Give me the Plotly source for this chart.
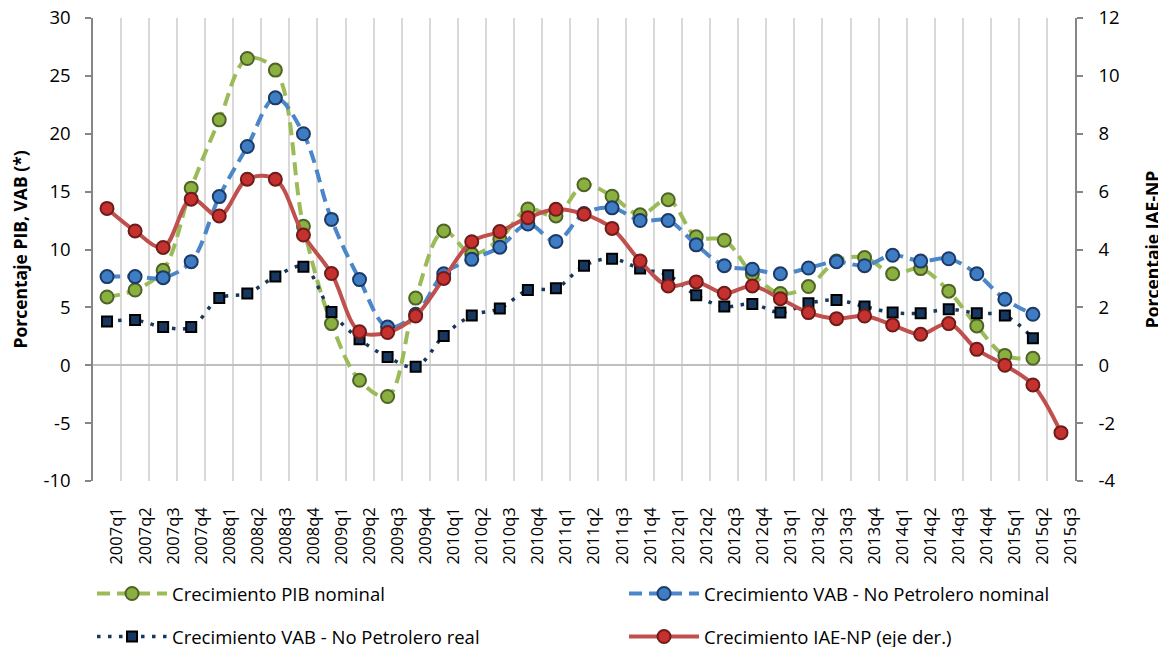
import plotly.graph_objects as go

categories = ["2007q1","2007q2","2007q3","2007q4","2008q1","2008q2","2008q3","2008q4",
              "2009q1","2009q2","2009q3","2009q4","2010q1","2010q2","2010q3","2010q4",
              "2011q1","2011q2","2011q3","2011q4","2012q1","2012q2","2012q3","2012q4",
              "2013q1","2013q2","2013q3","2013q4","2014q1","2014q2","2014q3","2014q4",
              "2015q1","2015q2","2015q3"]

pib_nominal = [5.9, 6.5, 8.2, 15.3, 21.2, 26.5, 25.5, 12.0,
               3.6, -1.3, -2.7, 5.8, 11.6, 9.6, 10.9, 13.5,
               12.9, 15.6, 14.6, 13.0, 14.3, 11.1, 10.8, 7.9,
               6.2, 6.8, 9.0, 9.3, 7.9, 8.35, 6.4, 3.4,
               0.85, 0.6, None]

vab_np_nominal = [7.66, 7.66, 7.57, 8.95, 14.57, 18.9, 23.1, 20.0,
                  12.6, 7.4, 3.3, 4.4, 7.9, 9.15, 10.2, 12.2,
                  10.7, 13.1, 13.6, 12.5, 12.5, 10.4, 8.6, 8.3,
                  7.9, 8.4, 8.95, 8.6, 9.5, 9.0, 9.2, 7.9,
                  5.7, 4.4, None]

vab_np_real = [3.77, 3.9, 3.3, 3.3, 5.8, 6.2, 7.66, 8.5,
               4.6, 2.25, 0.72, -0.14, 2.53, 4.3, 4.9, 6.5,
               6.65, 8.6, 9.2, 8.35, 7.77, 6.05, 5.07, 5.3,
               4.55, 5.35, 5.64, 5.07, 4.55, 4.5, 4.84, 4.5,
               4.3, 2.33, None]

iae_np = [5.42, 4.64, 4.07, 5.74, 5.16, 6.43, 6.43, 4.5,
          3.17, 1.16, 1.13, 1.7, 3.0, 4.27, 4.62, 5.1,
          5.39, 5.22, 4.73, 3.6, 2.74, 2.88, 2.49, 2.74,
          2.3, 1.82, 1.61, 1.7, 1.39, 1.07, 1.44, 0.55,
          0.0, -0.68, -2.33]

names = ["Crecimiento PIB nominal",
         "Crecimiento VAB - No Petrolero nominal",
         "Crecimiento VAB - No Petrolero real",
         "Crecimiento IAE-NP (eje der.)"]

left_ticks = [-10, -5, 0, 5, 10, 15, 20, 25, 30]
right_ticks = [-4, -2, 0, 2, 4, 6, 8, 10, 12]

x = list(range(len(categories)))
FONT = "Open Sans, Noto Sans, DejaVu Sans, sans-serif"

fig = go.Figure()

fig.add_trace(go.Scatter(
    x=x, y=pib_nominal, name=names[0], mode="lines+markers",
    line=dict(color="#9BBB59", width=4, dash="13px,7px", shape="spline", smoothing=1),
    marker=dict(symbol="circle", size=13, color="#8AB03F", line=dict(color="#4F6228", width=2)),
    legend="legend"))

fig.add_trace(go.Scatter(
    x=x, y=vab_np_nominal, name=names[1], mode="lines+markers",
    line=dict(color="#4A86C8", width=4, dash="13px,7px", shape="spline", smoothing=1),
    marker=dict(symbol="circle", size=13, color="#3E7CC4", line=dict(color="#1C3A66", width=2)),
    legend="legend"))

fig.add_trace(go.Scatter(
    x=x, y=vab_np_real, name=names[2], mode="lines+markers",
    line=dict(color="#17375E", width=3.5, dash="3.5px,7.5px", shape="spline", smoothing=1),
    marker=dict(symbol="square", size=10, color="#17375E", line=dict(color="#000000", width=2)),
    legend="legend2"))

fig.add_trace(go.Scatter(
    x=x, y=iae_np, name=names[3], mode="lines+markers", yaxis="y2",
    line=dict(color="#C0504D", width=4, shape="spline", smoothing=1),
    marker=dict(symbol="circle", size=13, color="#C4312E", line=dict(color="#6E1C1A", width=2)),
    legend="legend2"))

fig.update_layout(
    width=1166, height=647,
    margin=dict(l=85, r=99, t=10, b=174, autoexpand=False),
    paper_bgcolor="white", plot_bgcolor="white",
    font=dict(family=FONT, color="#000000"),
    xaxis=dict(
        range=[-0.5, len(categories) - 0.5],
        tickmode="array",
        tickvals=[i + 0.36 for i in x],
        ticktext=categories,
        tickangle=-90,
        tickfont=dict(size=16.5, family=FONT),
        ticks="", showline=False, showgrid=False, zeroline=False,
        ticklabelstandoff=22, automargin=False, ticklabeloverflow="allow",
        minor=dict(tick0=-0.5, dtick=1, showgrid=True, gridcolor="#D9D9D9", gridwidth=1.5, ticks=""),
    ),
    yaxis=dict(
        range=[-10, 30], tickmode="array", tickvals=left_ticks,
        ticktext=[str(v) for v in left_ticks],
        showgrid=False, zeroline=True, zerolinecolor="#BFBFBF", zerolinewidth=2,
        showline=True, linecolor="#868686", linewidth=1.5,
        ticks="outside", ticklen=6, tickcolor="#868686", tickwidth=1.5,
        tickfont=dict(size=18.5, family=FONT),
        ticklabelstandoff=11, automargin=False, ticklabeloverflow="allow",
        title=dict(text="<b>Porcentaje PIB, VAB (*)</b>", font=dict(size=17.5, family=FONT), standoff=12),
    ),
    yaxis2=dict(
        range=[-4, 12], tickmode="array", tickvals=right_ticks,
        ticktext=[str(v) for v in right_ticks],
        overlaying="y", side="right",
        showgrid=False, zeroline=False,
        showline=True, linecolor="#868686", linewidth=1.5,
        ticks="outside", ticklen=6, tickcolor="#868686", tickwidth=1.5,
        tickfont=dict(size=18.5, family=FONT),
        ticklabelstandoff=12, automargin=False, ticklabeloverflow="allow",
        title=dict(text="<b>Porcentaje IAE-NP</b>", font=dict(size=17.5, family=FONT), standoff=28),
    ),
    legend=dict(
        orientation="h", x=-0.001, y=-0.244, xanchor="left", yanchor="middle",
        entrywidth=447, entrywidthmode="pixels", itemwidth=70,
        font=dict(size=18.5, family=FONT), bgcolor="rgba(0,0,0,0)",
    ),
    legend2=dict(
        orientation="h", x=-0.001, y=-0.337, xanchor="left", yanchor="middle",
        entrywidth=447, entrywidthmode="pixels", itemwidth=70,
        font=dict(size=18.5, family=FONT), bgcolor="rgba(0,0,0,0)",
    ),
    showlegend=True,
)

fig.write_html("out.html")
